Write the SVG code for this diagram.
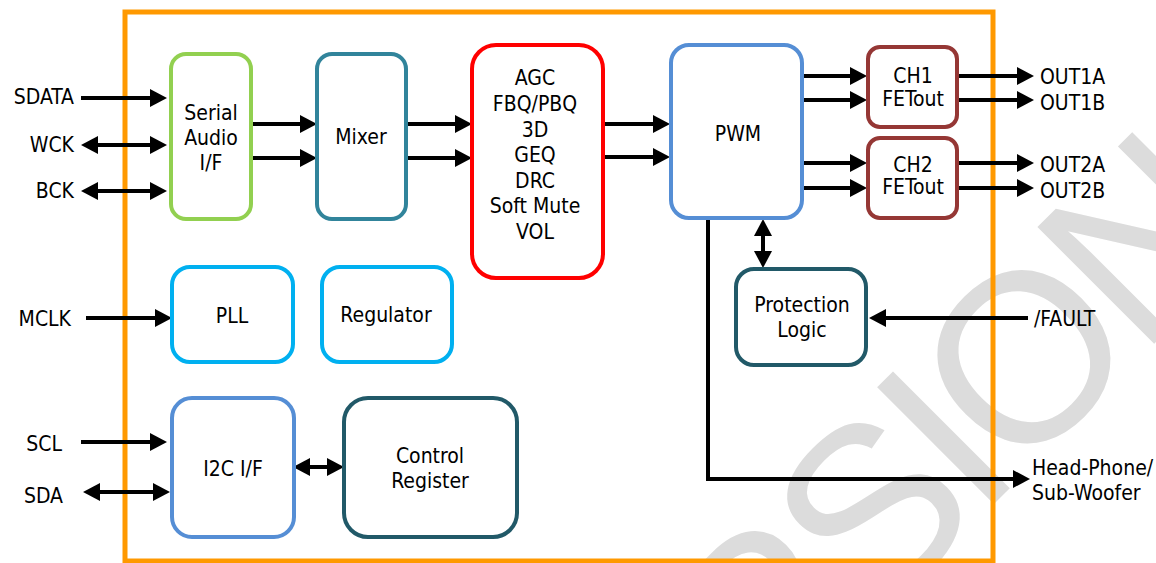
<svg xmlns="http://www.w3.org/2000/svg" width="1156" height="563" viewBox="0 0 1156 563">
<style>
text{font-family:"DejaVu Sans Condensed","Liberation Sans",sans-serif;font-size:21px;fill:#000}
.m{text-anchor:middle}
.e{text-anchor:end}
.box{fill:#fff;stroke-width:4}
.w{stroke:#000;stroke-width:4;fill:none}
.wm{font-family:"Liberation Sans",sans-serif;font-size:240px;fill:#dcdcdc;letter-spacing:-12px}
</style>
<defs>
<marker id="ah" markerUnits="userSpaceOnUse" markerWidth="18" markerHeight="18" viewBox="0 0 17 18" refX="7" refY="9" orient="auto-start-reverse">
<path d="M0,0 L17,9 L0,18 z" fill="#000"/>
</marker>
</defs>
<text class="wm" transform="translate(550,948) rotate(-45)">VERSION</text>
<rect id="chip" x="125" y="12" width="868" height="549" fill="none" stroke="#FF9900" stroke-width="5"/>
<g id="connectors">
<line class="w" x1="81" y1="98" x2="157" y2="98" marker-end="url(#ah)"/>
<line class="w" x1="91" y1="145" x2="157" y2="145" marker-start="url(#ah)" marker-end="url(#ah)"/>
<line class="w" x1="91" y1="191" x2="157" y2="191" marker-start="url(#ah)" marker-end="url(#ah)"/>
<line class="w" x1="251" y1="124" x2="307" y2="124" marker-end="url(#ah)"/>
<line class="w" x1="251" y1="158" x2="307" y2="158" marker-end="url(#ah)"/>
<line class="w" x1="406" y1="124" x2="462" y2="124" marker-end="url(#ah)"/>
<line class="w" x1="406" y1="158" x2="462" y2="158" marker-end="url(#ah)"/>
<line class="w" x1="603" y1="124" x2="660" y2="124" marker-end="url(#ah)"/>
<line class="w" x1="603" y1="157" x2="660" y2="157" marker-end="url(#ah)"/>
<line class="w" x1="802" y1="76" x2="857" y2="76" marker-end="url(#ah)"/>
<line class="w" x1="802" y1="100" x2="857" y2="100" marker-end="url(#ah)"/>
<line class="w" x1="802" y1="163" x2="857" y2="163" marker-end="url(#ah)"/>
<line class="w" x1="802" y1="188" x2="857" y2="188" marker-end="url(#ah)"/>
<line class="w" x1="957" y1="76" x2="1024" y2="76" marker-end="url(#ah)"/>
<line class="w" x1="957" y1="100" x2="1024" y2="100" marker-end="url(#ah)"/>
<line class="w" x1="957" y1="163" x2="1024" y2="163" marker-end="url(#ah)"/>
<line class="w" x1="957" y1="188" x2="1024" y2="188" marker-end="url(#ah)"/>
<line class="w" x1="763" y1="229" x2="763" y2="258" marker-start="url(#ah)" marker-end="url(#ah)"/>
<line class="w" x1="1028" y1="318" x2="879" y2="318" marker-end="url(#ah)"/>
<path class="w" d="M708,218 V479 H1020" marker-end="url(#ah)"/>
<line class="w" x1="86" y1="318" x2="162" y2="318" marker-end="url(#ah)"/>
<line class="w" x1="81" y1="442" x2="157" y2="442" marker-end="url(#ah)"/>
<line class="w" x1="93" y1="492" x2="160" y2="492" marker-start="url(#ah)" marker-end="url(#ah)"/>
<line class="w" x1="303" y1="467" x2="334" y2="467" marker-start="url(#ah)" marker-end="url(#ah)"/>
</g>
<g id="labels">
<text class="e" x="74" y="104">SDATA</text>
<text class="e" x="74" y="152">WCK</text>
<text class="e" x="74" y="198">BCK</text>
<text class="e" x="71" y="326">MCLK</text>
<text class="e" x="62" y="451">SCL</text>
<text class="e" x="63" y="503">SDA</text>
<text x="1040" y="84">OUT1A</text>
<text x="1040" y="110">OUT1B</text>
<text x="1040" y="172">OUT2A</text>
<text x="1040" y="198">OUT2B</text>
<text x="1034" y="326">/FAULT</text>
<text x="1032" y="475">Head-Phone/</text>
<text x="1032" y="500">Sub-Woofer</text>
</g>
<g id="serial">
<rect class="box" x="171" y="54" width="80" height="165" rx="15" stroke="#92D050"/>
<text class="m" x="211" y="120">Serial</text>
<text class="m" x="211" y="145">Audio</text>
<text class="m" x="211" y="170">I/F</text>
</g>
<g id="mixer">
<rect class="box" x="317" y="54" width="89" height="165" rx="15" stroke="#31849B"/>
<text class="m" x="361" y="144">Mixer</text>
</g>
<g id="dsp">
<rect class="box" x="472" y="45" width="131" height="233" rx="24" stroke="#FF0000"/>
<text class="m" x="535" y="85">AGC</text>
<text class="m" x="535" y="111">FBQ/PBQ</text>
<text class="m" x="535" y="137">3D</text>
<text class="m" x="535" y="162">GEQ</text>
<text class="m" x="535" y="188">DRC</text>
<text class="m" x="535" y="213">Soft Mute</text>
<text class="m" x="535" y="239">VOL</text>
</g>
<g id="pwm">
<rect class="box" x="671" y="45" width="131" height="173" rx="18" stroke="#558ED5"/>
<text class="m" x="738" y="141">PWM</text>
</g>
<g id="ch1">
<rect class="box" x="868" y="47" width="89" height="80" rx="12" stroke="#953735" stroke-width="3"/>
<text class="m" x="913" y="83">CH1</text>
<text class="m" x="913" y="106">FETout</text>
</g>
<g id="ch2">
<rect class="box" x="868" y="138" width="89" height="80" rx="12" stroke="#953735" stroke-width="3"/>
<text class="m" x="913" y="172">CH2</text>
<text class="m" x="913" y="194">FETout</text>
</g>
<g id="protection">
<rect class="box" x="736" y="269" width="130" height="96" rx="18" stroke="#215968"/>
<text class="m" x="802" y="312">Protection</text>
<text class="m" x="802" y="337">Logic</text>
</g>
<g id="pll">
<rect class="box" x="172" y="267" width="121" height="95" rx="18" stroke="#00B0F0"/>
<text class="m" x="232" y="323">PLL</text>
</g>
<g id="regulator">
<rect class="box" x="322" y="267" width="130" height="95" rx="18" stroke="#00B0F0"/>
<text class="m" x="386" y="322">Regulator</text>
</g>
<g id="i2c">
<rect class="box" x="172" y="398" width="122" height="139" rx="20" stroke="#558ED5"/>
<text class="m" x="233" y="476">I2C I/F</text>
</g>
<g id="control">
<rect class="box" x="344" y="398" width="173" height="139" rx="24" stroke="#215968"/>
<text class="m" x="430" y="463">Control</text>
<text class="m" x="430" y="488">Register</text>
</g>
</svg>
